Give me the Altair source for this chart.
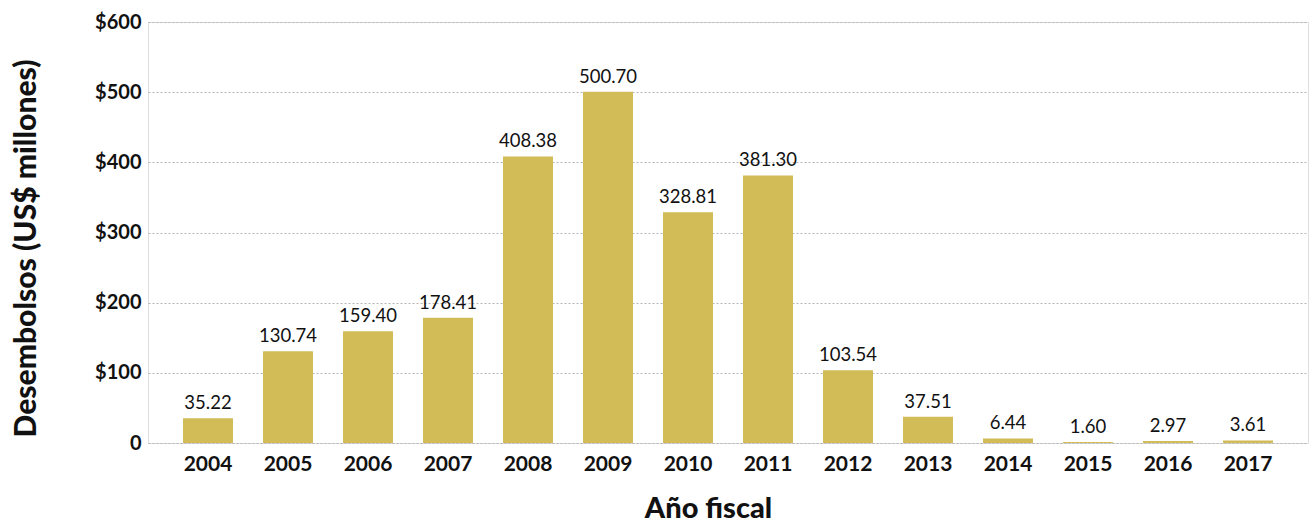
import altair as alt
import pandas as pd

years = ["2004", "2005", "2006", "2007", "2008", "2009", "2010", "2011", "2012", "2013", "2014", "2015", "2016", "2017"]
values = [35.22, 130.74, 159.40, 178.41, 408.38, 500.70, 328.81, 381.30, 103.54, 37.51, 6.44, 1.60, 2.97, 3.61]

df = pd.DataFrame({"year": years, "value": values})
df["label"] = [f"{v:.2f}" for v in values]

FONT = "Lato"

x = alt.X("year:N", sort=years,
          scale=alt.Scale(paddingInner=0.375, paddingOuter=0.4375),
          axis=alt.Axis(title="Año fiscal", labelAngle=0, labelFont=FONT, labelFontSize=21,
                        labelFontWeight="bold", labelColor="#111", labelPadding=10,
                        ticks=False, domain=False,
                        titleFont=FONT, titleFontSize=29, titleFontWeight=900, titleColor="#111",
                        titleX=560, titleY=65, titleBaseline="middle"))
y = alt.Y("value:Q", scale=alt.Scale(domain=[0, 600], nice=False),
          axis=alt.Axis(title="Desembolsos (US$ millones)", values=[0, 100, 200, 300, 400, 500, 600],
                        labelExpr="datum.value == 0 ? '0' : '$' + datum.value",
                        labelFont=FONT, labelFontSize=20, labelFontWeight="bold", labelColor="#111",
                        labelPadding=7, ticks=False, domain=False,
                        grid=True, gridColor="#b5b5b5", gridDash=[2, 2], gridWidth=1,
                        titleFont=FONT, titleFontSize=30, titleFontWeight=900, titleColor="#111",
                        titleAngle=270, titleX=-122, titleY=226, titleAlign="center", titleBaseline="middle"))

bars = alt.Chart(df).mark_bar(color="#D1BC57").encode(x=x, y=y)
text = alt.Chart(df).mark_text(font=FONT, fontSize=18.5, color="#111", baseline="bottom", dy=-5).encode(
    x=alt.X("year:N", sort=years), y="value:Q", text="label:N")

chart = (bars + text).properties(
    width=1160, height=421,
    autosize=alt.AutoSizeParams(type="none"),
    padding={"left": 148, "top": 22, "right": 5, "bottom": 81},
).configure_view(stroke=None).configure(background="white")

chart.save("out.html", embed_options={"renderer": "svg", "actions": False})
